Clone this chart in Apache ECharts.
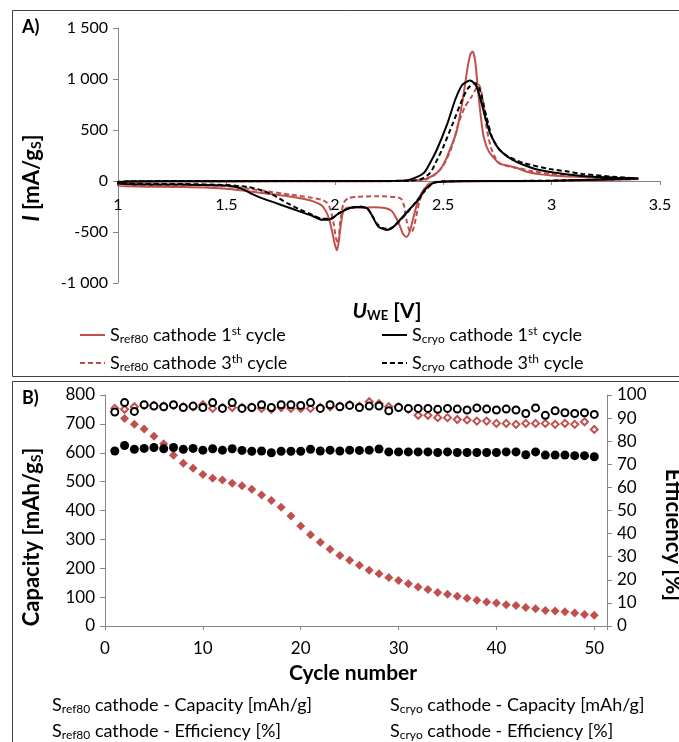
<!DOCTYPE html>
<html><head><meta charset="utf-8">
<script src="https://cdn.jsdelivr.net/npm/echarts@6/dist/echarts.min.js"></script>
<style>html,body{margin:0;padding:0;background:#fff}#c{width:679px;height:742px}</style>
</head><body><div id="c"></div>
<script>
// ---------- Panel A: cyclic voltammetry [V, mA/gS] ----------
const ref80Cycle1 = [[3.4,20],[3.2,5],[3.0,0],[2.7,-3],[2.5,-8],[2.46,-15],[2.43,-40],[2.40,-120],[2.38,-220],[2.36,-380],[2.345,-500],[2.33,-549],[2.315,-520],[2.30,-440],[2.28,-350],[2.26,-290],[2.23,-265],[2.18,-258],[2.12,-262],[2.07,-260],[2.05,-270],[2.035,-330],[2.02,-560],[2.01,-680],[2.0,-620],[1.99,-520],[1.975,-380],[1.96,-300],[1.94,-240],[1.9,-200],[1.84,-170],[1.75,-140],[1.6,-100],[1.5,-75],[1.3,-60],[1.0,-50],
  [1.0,-30],[1.05,-8],[1.2,-3],[1.6,-2],[2.0,-2],[2.3,0],[2.4,10],[2.45,50],[2.485,110],[2.51,200],[2.53,304],[2.56,470],[2.59,794],[2.61,1080],[2.625,1240],[2.635,1270],[2.647,1186],[2.66,900],[2.67,696],[2.68,520],[2.69,402],[2.71,290],[2.73,235],[2.76,170],[2.80,150],[2.84,127],[2.89,88],[2.95,65],[3.0,55],[3.14,39],[3.3,29],[3.4,20]];
const ref80Cycle3 = [[3.4,20],[3.0,2],[2.6,-2],[2.47,-8],[2.44,-20],[2.415,-69],[2.39,-206],[2.37,-402],[2.355,-500],[2.345,-490],[2.33,-380],[2.32,-250],[2.31,-185],[2.29,-160],[2.2,-150],[2.1,-155],[2.06,-170],[2.04,-220],[2.025,-400],[2.015,-610],[2.005,-560],[1.995,-420],[1.98,-280],[1.965,-215],[1.94,-185],[1.88,-160],[1.8,-135],[1.7,-105],[1.6,-75],[1.5,-50],[1.3,-40],[1.0,-35],
  [1.0,-20],[1.05,-5],[1.5,-2],[2.0,-2],[2.35,0],[2.42,15],[2.46,60],[2.5,150],[2.53,280],[2.545,372],[2.57,560],[2.6,725],[2.63,823],[2.65,900],[2.665,940],[2.675,880],[2.69,700],[2.70,520],[2.72,330],[2.74,230],[2.76,175],[2.80,145],[2.85,125],[2.9,100],[3.0,69],[3.14,45],[3.3,30],[3.4,20]];
const cryoCycle1 = [[3.4,25],[3.0,3],[2.6,0],[2.5,-5],[2.46,-15],[2.44,-39],[2.41,-100],[2.39,-170],[2.35,-265],[2.30,-382],[2.27,-450],[2.24,-480],[2.21,-460],[2.195,-431],[2.17,-333],[2.15,-270],[2.115,-255],[2.07,-265],[2.02,-314],[1.98,-375],[1.94,-380],[1.9,-345],[1.84,-300],[1.78,-255],[1.72,-210],[1.66,-165],[1.61,-118],[1.57,-75],[1.5,-45],[1.3,-35],[1.0,-30],
  [1.0,-15],[1.05,-5],[1.5,-2],[2.0,0],[2.3,2],[2.35,15],[2.41,78],[2.44,180],[2.47,304],[2.52,568],[2.555,794],[2.587,941],[2.61,975],[2.624,985],[2.64,965],[2.655,921],[2.67,820],[2.685,696],[2.70,580],[2.716,470],[2.74,370],[2.76,304],[2.82,206],[2.91,127],[3.0,85],[3.14,50],[3.3,32],[3.4,25]];
const cryoCycle3 = [[3.4,25],[3.0,3],[2.6,0],[2.5,-5],[2.46,-15],[2.44,-45],[2.41,-110],[2.38,-190],[2.35,-270],[2.30,-390],[2.27,-450],[2.25,-470],[2.22,-460],[2.195,-420],[2.17,-330],[2.15,-270],[2.115,-250],[2.07,-265],[2.02,-314],[1.98,-370],[1.94,-370],[1.9,-335],[1.84,-280],[1.78,-216],[1.715,-137],[1.66,-90],[1.6,-60],[1.5,-40],[1.3,-30],[1.0,-25],
  [1.0,-10],[1.05,-3],[1.5,0],[2.0,0],[2.35,3],[2.40,20],[2.44,80],[2.47,200],[2.5,333],[2.545,568],[2.587,794],[2.615,911],[2.647,960],[2.67,892],[2.685,760],[2.70,627],[2.73,402],[2.776,274],[2.84,200],[2.87,176],[2.99,118],[3.07,95],[3.14,69],[3.3,39],[3.4,25]];
const cvSeriesNames = ['Sref80 1st','Sref80 3rd','Scryo 1st','Scryo 3rd'];

// ---------- Panel B: cycling ----------
const cycles = [1,2,3,4,5,6,7,8,9,10,11,12,13,14,15,16,17,18,19,20,21,22,23,24,25,26,27,28,29,30,31,32,33,34,35,36,37,38,39,40,41,42,43,44,45,46,47,48,49,50];
const ref80Capacity = [745,719,699,682,657,631,591,564,546,525,512,506,494,486,474,454,435,411,381,346,316,290,266,244,228,210,193,181,168,158,146,135,126,116,110,103,96,89,83,80,74,71,64,60,54,52,49,45,40,37];
const cryoCapacity = [606,625,612,615,618,614,618,612,615,609,614,609,614,608,605,606,600,605,605,605,612,606,609,606,609,608,609,613,603,603,603,603,603,601,603,601,601,601,601,601,603,603,593,603,592,592,592,590,590,586];
const ref80Efficiency = [94.2,93.8,94.9,95.5,95.5,95.2,95.5,94.9,94.9,95.8,94.2,94.6,94.6,94.6,94.6,94.2,93.8,94.6,94.2,94.2,94.2,94.6,94.9,95.2,95.8,95.2,97.1,96.2,94.9,94.9,93.8,91.2,91.2,90.2,90.2,89.4,89.2,88.7,88.7,87.7,87.7,87.3,87.7,87.7,87.7,87.3,87.7,87.3,88.4,85.1];
const cryoEfficiency = [92.6,96.7,92.9,95.8,95.2,94.9,95.8,94.6,95.2,94.6,96.7,94.2,96.7,94.2,94.6,95.8,94.6,95.8,95.8,95.5,96.7,94.2,95.8,94.9,95.5,94.6,95.2,95.2,93.2,94.6,94.2,94.2,94.2,93.8,94.2,93.9,93.5,94.4,93.9,93.5,93.9,93.5,92.0,94.4,91.2,93.2,92.3,92.0,92.3,91.6];

const RED = '#C0504D', BLK = '#000000', AX = '#868686';
const FONT = 'Lato';
const pair = (xs, ys) => xs.map((x, i) => [x, ys[i]]);
const thou = v => String(v).replace(/\B(?=(\d{3})+(?!\d))/g, '\u00a0');

const richBase = {
  a: {fontFamily: FONT, fontSize: 18, color: '#000'},
  s: {fontFamily: FONT, fontSize: 12, color: '#000', padding: [8, 0, 0, 0]},
  p: {fontFamily: FONT, fontSize: 12, color: '#000', padding: [0, 0, 8, 0]}
};
const legendLabels = {
  'Sref80 1st': '{a|S}{s|ref80}{a| cathode 1}{p|st}{a| cycle}',
  'Sref80 3rd': '{a|S}{s|ref80}{a| cathode 3}{p|th}{a| cycle}',
  'Scryo 1st': '{a|S}{s|cryo}{a| cathode 1}{p|st}{a| cycle}',
  'Scryo 3rd': '{a|S}{s|cryo}{a| cathode 3}{p|th}{a| cycle}'
};

const chart = echarts.init(document.getElementById('c'), null, {renderer: 'canvas'});
const axisLbl = {fontFamily: FONT, fontSize: 16, color: '#000'};

const cvLine = (name, data, color, dashed) => ({
  name, type: 'line', xAxisIndex: 0, yAxisIndex: 0, data, showSymbol: false, symbol: 'none',
  smooth: 0.25, lineStyle: {color, width: 2, type: dashed ? [5, 3] : 'solid'}, itemStyle: {color},
  animation: false, z: 3
});
const dot = (name, data, yIdx, symbol, size, filled, color, z) => ({
  name, type: 'scatter', xAxisIndex: 1, yAxisIndex: yIdx, data, symbol, symbolSize: size,
  itemStyle: filled ? {color, opacity: 1} : {color: '#fff', borderColor: color, borderWidth: 2, opacity: 1},
  animation: false, z
});
const legendCommon = {orient: 'vertical', itemGap: 8, itemWidth: 25, itemHeight: 16,
  formatter: n => legendLabels[n], textStyle: {rich: richBase}, selectedMode: false,
  itemStyle: {opacity: 0, borderWidth: 0}, lineStyle: {width: 2}};

const option = {
  animation: false,
  backgroundColor: '#fff',
  grid: [
    {left: 118, right: 19, top: 28, height: 255},
    {left: 105, right: 72, top: 395, height: 231}
  ],
  xAxis: [
    {gridIndex: 0, type: 'value', min: 1, max: 3.5, interval: 0.5, position: 'bottom', offset: -102,
     axisLine: {onZero: false, lineStyle: {color: AX}}, axisTick: {show: true, length: 4, lineStyle: {color: AX}},
     axisLabel: {...axisLbl, margin: 16}, splitLine: {show: false}},
    {gridIndex: 1, type: 'value', min: 0, max: 51.3, interval: 10,
     axisLine: {lineStyle: {color: AX}}, axisTick: {length: 4, lineStyle: {color: AX}},
     axisLabel: {...axisLbl, fontSize: 17, margin: 14, formatter: v => (v % 10 === 0 ? String(v) : '')}, splitLine: {show: false}}
  ],
  yAxis: [
    {gridIndex: 0, type: 'value', min: -1000, max: 1500, interval: 500,
     axisLine: {show: true, onZero: false, lineStyle: {color: AX}}, axisTick: {show: true, length: 5, lineStyle: {color: AX}},
     axisLabel: {...axisLbl, margin: 10, formatter: thou}, splitLine: {show: false}},
    {gridIndex: 1, type: 'value', min: 0, max: 800, interval: 100,
     axisLine: {show: true, lineStyle: {color: AX}}, axisTick: {show: true, length: 5, lineStyle: {color: AX}},
     axisLabel: {...axisLbl, fontSize: 17, margin: 10}, splitLine: {show: false}},
    {gridIndex: 1, type: 'value', min: 0, max: 100, interval: 10, position: 'right',
     axisLine: {show: true, lineStyle: {color: AX}}, axisTick: {show: true, length: 5, lineStyle: {color: AX}},
     axisLabel: {...axisLbl, fontSize: 17, margin: 10}, splitLine: {show: false}}
  ],
  legend: [
    {...legendCommon, data: [cvSeriesNames[0], cvSeriesNames[1]], left: 74, top: 320},
    {...legendCommon, data: [cvSeriesNames[2], cvSeriesNames[3]], left: 376, top: 320}
  ],
  series: [
    cvLine(cvSeriesNames[0], ref80Cycle1, RED, false),
    cvLine(cvSeriesNames[1], ref80Cycle3, RED, true),
    cvLine(cvSeriesNames[2], cryoCycle1, BLK, false),
    cvLine(cvSeriesNames[3], cryoCycle3, BLK, true),
    dot('Sref80 capacity', pair(cycles, ref80Capacity), 1, 'diamond', 9, true, RED, 3),
    dot('Scryo capacity', pair(cycles, cryoCapacity), 1, 'circle', 9, true, BLK, 4),
    dot('Sref80 efficiency', pair(cycles, ref80Efficiency), 2, 'diamond', 7, false, RED, 5),
    dot('Scryo efficiency', pair(cycles, cryoEfficiency), 2, 'circle', 7, false, BLK, 6)
  ],
  graphic: [
    {type: 'rect', shape: {x: 12.5, y: 10.5, width: 700, height: 366}, style: {fill: 'none', stroke: '#404040', lineWidth: 1}, silent: true},
    {type: 'rect', shape: {x: 12.5, y: 381.5, width: 700, height: 400}, style: {fill: 'none', stroke: '#404040', lineWidth: 1}, silent: true},
    {type: 'text', x: 22, y: 18, style: {text: 'A)', font: 'bold 18px ' + FONT, fill: '#000'}},
    {type: 'text', x: 22, y: 389, style: {text: 'B)', font: 'bold 18px ' + FONT, fill: '#000'}},
    {type: 'text', x: 32, y: 178, rotation: Math.PI / 2,
     style: {text: '{i|I}{b| [mA/g}{s|S}{b|]}', align: 'center', verticalAlign: 'middle',
       rich: {i: {font: 'italic bold 22px ' + FONT}, b: {font: 'bold 22px ' + FONT}, s: {font: 'bold 14px ' + FONT, padding: [9, 0, 0, 0]}}}},
    {type: 'text', x: 387, y: 311,
     style: {text: '{i|U}{s|WE}{b| [V]}', align: 'center', verticalAlign: 'middle',
       rich: {i: {font: 'italic bold 21px ' + FONT}, b: {font: 'bold 21px ' + FONT}, s: {font: 'bold 13px ' + FONT, padding: [9, 0, 0, 0]}}}},
    {type: 'text', x: 32, y: 537, rotation: Math.PI / 2,
     style: {text: '{b|Capacity [mAh/g}{s|S}{b|]}', align: 'center', verticalAlign: 'middle',
       rich: {b: {font: 'bold 22px ' + FONT}, s: {font: 'bold 14px ' + FONT, padding: [9, 0, 0, 0]}}}},
    {type: 'text', x: 353, y: 673,
     style: {text: 'Cycle number', align: 'center', verticalAlign: 'middle', font: 'bold 21px ' + FONT, fill: '#000'}},
    {type: 'text', x: 673, y: 535, rotation: -Math.PI / 2,
     style: {text: 'Efficiency [%]', align: 'center', verticalAlign: 'middle', font: 'bold 22px ' + FONT, fill: '#000'}},
    {type: 'text', x: 52, y: 705, style: {text: '{a|S}{s|ref80}{a| cathode - Capacity [mAh/g]}', verticalAlign: 'middle', rich: richBase}},
    {type: 'text', x: 52, y: 731, style: {text: '{a|S}{s|ref80}{a| cathode - Efficiency [%]}', verticalAlign: 'middle', rich: richBase}},
    {type: 'text', x: 390, y: 705, style: {text: '{a|S}{s|cryo}{a| cathode - Capacity [mAh/g]}', verticalAlign: 'middle', rich: richBase}},
    {type: 'text', x: 390, y: 731, style: {text: '{a|S}{s|cryo}{a| cathode - Efficiency [%]}', verticalAlign: 'middle', rich: richBase}}
  ]
};
chart.setOption(option);
</script></body></html>
